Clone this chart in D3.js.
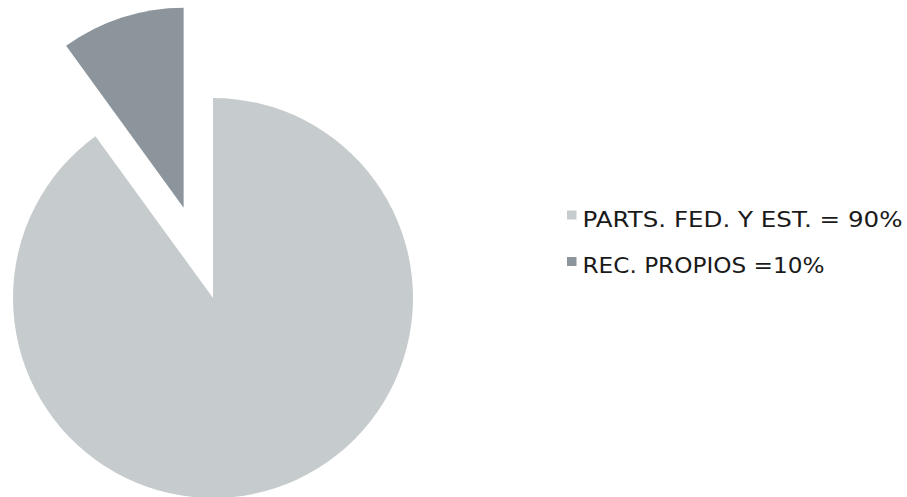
<!DOCTYPE html>
<html><head><meta charset="utf-8">
<script src="https://cdn.jsdelivr.net/npm/d3@7"></script>
<style>body{margin:0;background:#fff}</style>
</head><body>
<script>
const labels = ["PARTS. FED. Y EST. = 90%", "REC. PROPIOS =10%"];
const values = [90, 10];
const colors = ["#c6cbcd", "#8c959c"];

const W = 907, H = 497;
const svg = d3.select("body").append("svg").attr("width", W).attr("height", H);
const cx = 213, cy = 298, r = 200, explode = 95;

const pie = d3.pie().sort(null).value(d => d)(values);
const arc = d3.arc().innerRadius(0).outerRadius(r);
const g = svg.append("g").attr("transform", `translate(${cx},${cy})`);
g.selectAll("path").data(pie).enter().append("path")
  .attr("d", arc)
  .attr("fill", (d, i) => colors[i])
  .attr("transform", (d, i) => {
    if (i === 0) return null;
    const a = (d.startAngle + d.endAngle) / 2;
    return `translate(${Math.sin(a) * explode},${-Math.cos(a) * explode})`;
  });

const leg = svg.append("g").attr("transform", "translate(567,210.5)");
labels.forEach((t, i) => {
  const row = leg.append("g").attr("transform", `translate(0,${i * 46.5})`);
  row.append("rect").attr("width", 9.5).attr("height", 9).attr("fill", colors[i]);
  row.append("text").attr("x", 15.5).attr("y", 16.2)
    .attr("font-family", "DejaVu Sans").attr("font-size", 22).attr("fill", "#1a1a1a")
    .attr("textLength", i === 0 ? 320 : 242).attr("lengthAdjust", "spacingAndGlyphs")
    .text(t);
});
</script>
</body></html>
